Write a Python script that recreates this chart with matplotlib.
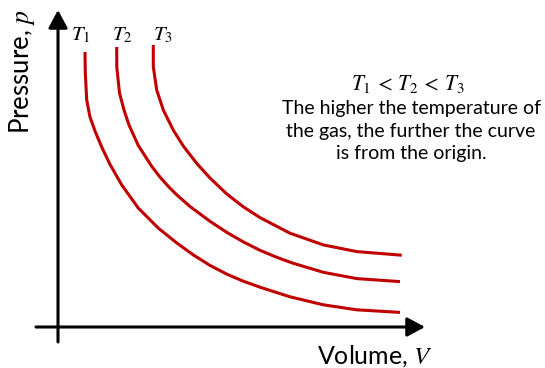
import matplotlib
matplotlib.use('Agg')
import matplotlib.pyplot as plt

plt.rcParams['font.family'] = ['Lato', 'DejaVu Sans']
plt.rcParams['mathtext.fontset'] = 'stix'

# isotherms (volume, pressure in arbitrary units)
v_t1 = [2.70, 2.73, 2.87, 3.20, 3.70, 4.37, 5.20, 6.37, 8.03, 10.05, 11.87,
        13.53, 15.20, 16.87, 18.53, 20.20, 23.20, 26.53, 29.87, 34.20]
p_t1 = [27.50, 25.40, 22.70, 21.00, 19.60, 18.00, 16.26, 14.21, 11.89, 9.87,
        8.41, 7.21, 6.16, 5.29, 4.58, 3.98, 3.02, 2.22, 1.72, 1.46]

v_t2 = [5.87, 5.88, 6.15, 6.60, 7.10, 8.03, 9.37, 10.20, 11.03, 11.87, 13.20,
        15.20, 16.87, 18.53, 20.20, 21.87, 23.50, 26.53, 29.87, 34.20]
p_t2 = [28.00, 26.00, 23.40, 21.70, 20.20, 18.15, 16.07, 14.99, 14.06, 13.22,
        12.05, 10.57, 9.47, 8.51, 7.67, 6.97, 6.38, 5.47, 4.84, 4.54]

v_t3 = [9.53, 9.53, 9.87, 10.53, 11.55, 12.53, 13.87, 15.20, 16.87, 18.53,
        20.20, 23.20, 26.53, 29.87, 34.37]
p_t3 = [28.20, 26.03, 23.70, 21.70, 19.65, 18.10, 16.36, 14.90, 13.31, 12.02,
        10.94, 9.38, 8.21, 7.54, 7.18]

curve_labels = [r'$T_1$', r'$T_2$', r'$T_3$']
label_v = [2.3, 6.4, 10.5]

note = "The higher the temperature of\nthe gas, the further the curve\nis from the origin."

red = '#c00000'

fig = plt.figure(figsize=(5.45, 3.68), dpi=100)
ax = fig.add_axes([0, 0, 1, 1])
ax.set_xlim(-5.8, 48.7)
ax.set_ylim(-4.1, 32.7)
ax.axis('off')

# axes with arrow heads
arrow = dict(arrowstyle='-|>,head_length=1.08,head_width=0.58', lw=2.2,
             color='black', shrinkA=0, shrinkB=0, mutation_scale=10)
ax.annotate('', xy=(0, 31.7), xytext=(0, -1.5), arrowprops=arrow)
ax.annotate('', xy=(36.7, 0), xytext=(-2.2, 0), arrowprops=arrow)

for v, p in [(v_t1, p_t1), (v_t2, p_t2), (v_t3, p_t3)]:
    ax.plot(v, p, color=red, lw=2.2, solid_capstyle='butt',
            solid_joinstyle='round')

for lab, x in zip(curve_labels, label_v):
    ax.text(x, 29.2, lab, ha='center', va='center', fontsize=15)

ax.text(-3.6, 25.5, r'Pressure, $p$', rotation=90, ha='center',
        va='center', fontsize=18.5)
ax.text(31.7, -2.9, r'Volume, $V$', ha='center', va='center', fontsize=18)

ax.text(35.0, 24.3, r'$T_1\,<\,T_2\,<\,T_3$', ha='center', va='center',
        fontsize=15.5)
ax.text(35.3, 19.6, note, ha='center', va='center', fontsize=14,
        linespacing=1.38)

fig.savefig('out.png', dpi=100)
